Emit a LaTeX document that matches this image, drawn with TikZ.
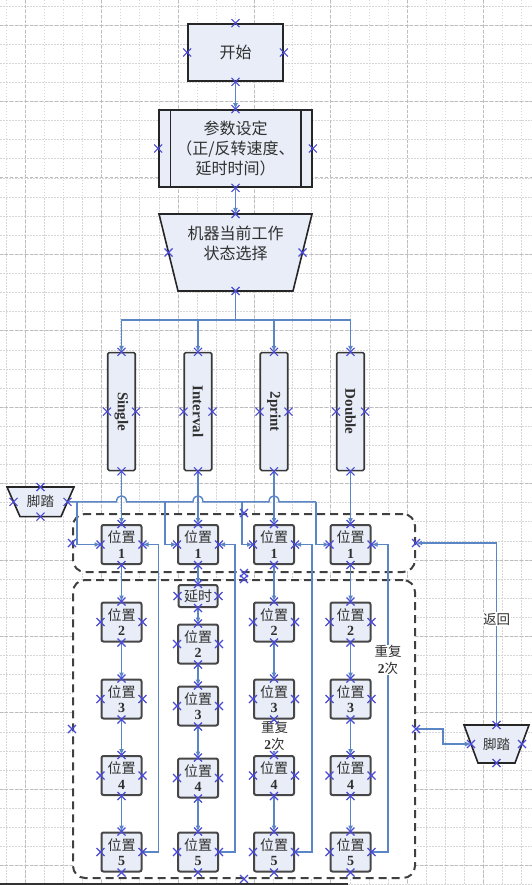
\documentclass[tikz,border=0pt]{standalone}
\usepackage{fontspec}
\setmainfont{Liberation Serif}
\newfontfamily\cjk{Noto Sans CJK SC}
\usetikzlibrary{arrows.meta,calc}
\pgfdeclarelayer{back}
\pgfsetlayers{back,main}
\definecolor{boxfill}{HTML}{E8EDF7}
\definecolor{conn}{HTML}{5B86C6}
\definecolor{xmark}{HTML}{4A4AD6}
\definecolor{gridmaj}{HTML}{BDBDBD}
\definecolor{gridmin}{HTML}{D6D6D6}
\definecolor{txt}{HTML}{303030}
\tikzset{
 flow/.style={draw=black!85, line width=1.6pt, fill=boxfill, text=txt, font=\cjk\fontsize{16}{20}\selectfont, align=center, inner sep=0pt},
 flowtext/.style={text=txt, font=\cjk\fontsize{16}{20}\selectfont, align=center, inner sep=0pt},
 hold/.style={inner sep=0pt, outer sep=0pt},
 shapeb/.style={draw=black!85, line width=1.6pt, fill=boxfill},
 posbox/.style={draw=black!72, line width=2pt, fill=boxfill, rounded corners=2pt, minimum width=40pt, minimum height=39pt, inner sep=0pt, align=center, text=txt, font=\fontsize{14}{15.5}\selectfont},
 modebox/.style={draw=black!78, line width=1.6pt, fill=boxfill, rounded corners=1.5pt, minimum width=27.5pt, minimum height=118pt, inner sep=0pt},
 modetext/.style={rotate=-90, font=\bfseries\fontsize{15}{15}\selectfont, text=txt, inner sep=0pt},
 grp/.style={draw=black!75, fill=white, line width=2pt, dash pattern=on 8pt off 5pt, rounded corners=12pt, inner sep=0pt},
 wire/.style={draw=conn, line width=1.4pt},
 arr/.style={wire, -{Latex[length=6pt,width=5pt]}},
 lbl/.style={font=\cjk\fontsize{13.5}{17}\selectfont, text=txt, align=center, inner sep=0.5pt},
 gminor/.style={draw=gridmin, line width=0.6pt, dash pattern=on 1.5pt off 1.5pt},
 gmajor/.style={draw=gridmaj, line width=0.8pt, dash pattern=on 3pt off 2pt},
 cp/.pic={\draw[xmark, line width=1.1pt] (-4,-4) -- (4,4) (-4,4) -- (4,-4);}
}
\begin{document}
\begin{tikzpicture}[x=1pt,y=-1pt]
\useasboundingbox (0,0) rectangle (532,885);
\begin{pgfonlayer}{back}
 \foreach \i in {0,...,27} \draw[gminor] ({6+19.1*\i},0) -- ({6+19.1*\i},885);
 \foreach \i in {0,...,46} \draw[gminor] (0,{6+19.1*\i}) -- (532,{6+19.1*\i});
 \foreach \i in {1,5,...,25} \draw[gmajor] ({6+19.1*\i},0) -- ({6+19.1*\i},885);
 \foreach \i in {1,5,...,45} \draw[gmajor] (0,{6+19.1*\i}) -- (532,{6+19.1*\i});
\end{pgfonlayer}

% groups
\node[grp, minimum width=342pt, minimum height=58pt] (g1) at (244,543) {};
\node[grp, minimum width=342pt, minimum height=298pt] (g2) at (244,729) {};

% top flow
\node[flow, minimum width=95pt, minimum height=57pt] (start) at (235.5,52.5) {开始};
\node[flow, minimum width=153pt, minimum height=77pt] (param) at (235.5,148.5) {参数设定\\（正/反转速度、\\延时时间）};
\draw[black!85, line width=1.4pt] ($(param.north west)+(12,0)$) -- ($(param.south west)+(12,0)$)
  ($(param.north east)+(-12,0)$) -- ($(param.south east)+(-12,0)$);
\node[hold, minimum width=153pt, minimum height=77pt] (trap) at (235.5,252.5) {};
\node[flowtext] (traptxt) at (235.5,243) {机器当前工作\\状态选择};

% mode boxes
\foreach \n/\x/\t in {m1/121.5/Single, m2/198/Interval, m3/274/2print, m4/350.5/Double} {
  \node[modebox] (\n) at (\x,411.6) {};
  \node[modetext] (\n-t) at (\n) {\t};
}

% position boxes
\foreach \c/\x in {1/121.5,3/274,4/350.5}
  \foreach \r/\y in {1/544.5,2/622,3/699,4/775.5,5/852}
    \node[posbox] (p\c\r) at (\x,\y) {{\cjk 位置}\\{\bfseries\r}};
\foreach \r/\y in {1/544.5,2/644,3/706,4/778,5/852}
  \node[posbox] (p2\r) at (198,\y) {{\cjk 位置}\\{\bfseries\r}};
\node[posbox, minimum width=39pt, minimum height=22pt] (d2) at (198,596) {\cjk 延时};

% foot pedals
\node[hold, minimum width=67pt, minimum height=29.6pt] (fl) at (40.5,501.8) {};
\node[lbl] (fl-t) at (fl) {脚踏};
\node[hold, minimum width=65pt, minimum height=38pt] (fr) at (496.5,744) {};
\node[lbl] (fr-t) at (fr) {脚踏};

\begin{pgfonlayer}{back}
 \draw[shapeb] (trap.north west) -- (trap.north east) -- ($(trap.south east)+(-19,0)$) -- ($(trap.south west)+(19,0)$) -- cycle;
 \draw[shapeb] (fl.north west) -- (fl.north east) -- ($(fl.south east)+(-13,0)$) -- ($(fl.south west)+(13,0)$) -- cycle;
 \draw[shapeb] (fr.north west) -- (fr.north east) -- ($(fr.south east)+(-14,0)$) -- ($(fr.south west)+(14,0)$) -- cycle;
\end{pgfonlayer}

\coordinate (fle) at ($(fl.east)+(-6.5,0)$);
\coordinate (flw) at ($(fl.west)+(6.5,0)$);
\coordinate (frw) at ($(fr.west)+(7,0)$);
\coordinate (fre) at ($(fr.east)+(-7,0)$);
\coordinate (tw) at ($(trap.west)+(9.5,0)$);
\coordinate (te) at ($(trap.east)+(-9.5,0)$);
\coordinate (bus) at (235.5,320);
\coordinate (b1) at (77,0);
\coordinate (b2) at (165,0);
\coordinate (b3) at (242,0);
\coordinate (b4) at (316,0);
\coordinate (r1) at (158.5,0);
\coordinate (r2) at (235,0);
\coordinate (r3) at (312,0);
\coordinate (r4) at (388,0);
\coordinate (rx) at (443,0);

% connectors
\draw[arr] (start.south) -- (param.north);
\draw[arr] (param.south) -- (trap.north);
\foreach \n in {m1,m2,m3,m4} \draw[arr] (trap.south) -- (bus) -| (\n.north);
\foreach \c in {1,2,3,4} \draw[arr] (m\c.south) -- (p\c1.north);

% foot pedal line with hops
\draw[wire] (fle)
  -- ($(fle -| m1.south)+(-5,0)$) .. controls +(0,-8) and +(0,-8) .. ($(fle -| m1.south)+(5,0)$)
  -- ($(fle -| m2.south)+(-5,0)$) .. controls +(0,-8) and +(0,-8) .. ($(fle -| m2.south)+(5,0)$)
  -- ($(fle -| m3.south)+(-5,0)$) .. controls +(0,-8) and +(0,-8) .. ($(fle -| m3.south)+(5,0)$)
  -- (fle -| b4);
\foreach \c in {1,2,3,4} \draw[arr] (fle -| b\c) |- (p\c1.west);

% column chains
\foreach \c in {1,3,4}
  \foreach \a/\b in {1/2,2/3,3/4,4/5}
    \draw[arr] (p\c\a.south) -- (p\c\b.north);
\draw[arr] (p21.south) -- (d2.north);
\draw[arr] (d2.south) -- (p22.north);
\foreach \a/\b in {2/3,3/4,4/5} \draw[arr] (p2\a.south) -- (p2\b.north);

% return loops
\foreach \c in {1,2,3,4}
  \draw[arr] (p\c5.east) -- (p\c5.east -| r\c) -- (p\c1.east -| r\c) -- (p\c1.east);

% right loop
\draw[arr] (g2.east) -- (g2.east -| rx) |- (frw);
\draw[arr] (fr.north) |- (g1.east);

% labels
\node[lbl, fill=white] (ret) at (496.5,619) {返回};
\node[lbl, fill=white] (rep1) at (274.5,736) {重复\\{\rmfamily\bfseries 2}次};
\node[lbl, fill=white] (rep2) at (388,660) {重复\\{\rmfamily\bfseries 2}次};

% connection point marks
\foreach \n in {start,param,m1,m2,m3,m4,g1,g2,d2,p11,p12,p13,p14,p15,p21,p22,p23,p24,p25,p31,p32,p33,p34,p35,p41,p42,p43,p44,p45}
  \foreach \a in {north,south,east,west}
    \pic at (\n.\a) {cp};
\foreach \p in {trap.north,trap.south,tw,te,fl.north,fl.south,fle,flw,fr.north,fr.south,frw,fre}
  \pic at (\p) {cp};

\draw[black!80, line width=2pt] (0,884) -- (348,884);
\end{tikzpicture}
\end{document}
